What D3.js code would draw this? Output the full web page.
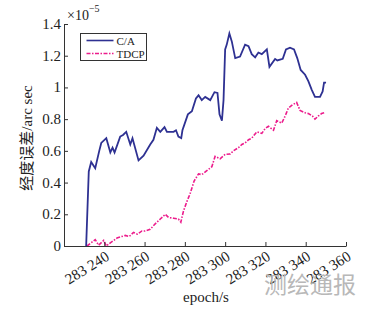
<!DOCTYPE html>
<html>
<head>
<meta charset="utf-8">
<script src="https://cdn.jsdelivr.net/npm/d3@7"></script>
<style>
  body { margin: 0; background: #fff; }
  svg text { font-family: "Liberation Serif", "Noto Sans CJK SC", serif; }
</style>
</head>
<body>
<div id="chart"></div>
<script>
// epochs (s) and longitude error (x1e-5 arc sec)
const caEpoch = [283231, 283232.3, 283233.5, 283235.5, 283237.5, 283238.5, 283241, 283243, 283244.1, 283245.1,
  283247.9, 283249.3, 283250.9, 283252.9, 283254, 283257, 283259.5, 283262.8, 283264.4, 283266.1,
  283267.8, 283269.9, 283271.1, 283274.4, 283275.6, 283276.8, 283278.2, 283278.8, 283281.5, 283283.5,
  283285.5, 283286.8, 283288.4, 283290.1, 283292.6, 283294.7, 283296.2, 283297.2, 283298.4, 283299.2,
  283300, 283300.8, 283302.1, 283303.3, 283305, 283307.4, 283309.9, 283311.6, 283313.2, 283314.9,
  283316.5, 283318.2, 283320.7, 283322, 283324.8, 283325.9, 283328.6, 283330.2, 283332.2, 283334.2,
  283335.8, 283337.5, 283339.7, 283341.3, 283343, 283344.6, 283347.1, 283348.4, 283349.1, 283350.1];
const caValue = [0, 0.47, 0.53, 0.49, 0.60, 0.65, 0.68, 0.59, 0.62, 0.59,
  0.69, 0.70, 0.72, 0.64, 0.68, 0.54, 0.57, 0.64, 0.67, 0.745,
  0.72, 0.75, 0.72, 0.72, 0.73, 0.69, 0.68, 0.73, 0.83, 0.85,
  0.93, 0.95, 0.92, 0.94, 0.92, 0.97, 0.965, 0.83, 0.79, 0.92,
  1.24, 1.27, 1.34, 1.29, 1.185, 1.195, 1.27, 1.26, 1.21, 1.19,
  1.22, 1.21, 1.24, 1.13, 1.18, 1.17, 1.18, 1.24, 1.25, 1.24,
  1.185, 1.11, 1.08, 1.04, 0.985, 0.94, 0.94, 0.975, 1.03, 1.03];

const tdcpEpoch = [283231.4, 283233.9, 283235.5, 283237.2, 283239.7, 283241, 283243, 283246.3, 283250.4, 283252.4,
  283254.5, 283256.4, 283258.7, 283260.3, 283262.8, 283265.3, 283267.8, 283270.3, 283271.9, 283274.4,
  283276.8, 283278, 283279.3, 283281, 283282.6, 283284.6, 283286.8, 283288.4, 283290.9, 283293.4,
  283295, 283297.5, 283300, 283302.5, 283304.1, 283306.6, 283308.3, 283309.9, 283311.6, 283313.2,
  283315.7, 283318.2, 283319.8, 283321.5, 283324, 283325.6, 283328.1, 283329.8, 283331.4, 283333.4,
  283335.5, 283337.2, 283339.7, 283341.3, 283343.3, 283344.6, 283346.3, 283347.9, 283349.2];
const tdcpValue = [0, 0.025, 0.04, 0.005, 0.035, 0, 0.02, 0.05, 0.067, 0.06,
  0.085, 0.075, 0.095, 0.095, 0.105, 0.14, 0.17, 0.2, 0.18, 0.175,
  0.17, 0.15, 0.22, 0.28, 0.33, 0.41, 0.455, 0.45, 0.475, 0.50,
  0.565, 0.55, 0.578, 0.58, 0.60, 0.62, 0.64, 0.65, 0.67, 0.68,
  0.72, 0.71, 0.74, 0.755, 0.73, 0.79, 0.775, 0.82, 0.87, 0.89,
  0.905, 0.855, 0.84, 0.835, 0.82, 0.80, 0.82, 0.835, 0.84];

const xTicks = [283240, 283260, 283280, 283300, 283320, 283340, 283360];
const yTicks = [0, 0.2, 0.4, 0.6, 0.8, 1, 1.2, 1.4];
const legendNames = ["C/A", "TDCP"];

const width = 369, height = 309;
const margin = { top: 24, right: 23, bottom: 63, left: 64 };

let svg = d3.select('#chart')
    .append('svg')
    .attr('width', width)
    .attr('height', height);

let xScale = d3.scaleLinear()
    .domain([283220, 283360])
    .range([margin.left, width - margin.right]);

let yScale = d3.scaleLinear()
    .domain([0, 1.4])
    .range([height - margin.bottom, margin.top]);

// data lines
let caData = caEpoch.map((e, i) => ({ epoch: e, value: caValue[i] }));
let tdcpData = tdcpEpoch.map((e, i) => ({ epoch: e, value: tdcpValue[i] }));

let line = d3.line()
    .x(d => xScale(d.epoch))
    .y(d => yScale(d.value));

svg.append('path')
    .datum(tdcpData)
    .attr('fill', 'none')
    .attr('stroke', '#ec1c8c')
    .attr('stroke-width', 1.6)
    .attr('stroke-dasharray', '4,1.5,1.5,1.5')
    .attr('d', line);

svg.append('path')
    .datum(caData)
    .attr('fill', 'none')
    .attr('stroke', '#2e3192')
    .attr('stroke-width', 1.8)
    .attr('d', line);

// axes, ticks pointing inward
let xAxis = svg.append('g')
    .attr('transform', `translate(0, ${height - margin.bottom})`)
    .call(d3.axisBottom(xScale).tickValues(xTicks).tickSizeInner(-4).tickSizeOuter(0).tickFormat(''));
let yAxis = svg.append('g')
    .attr('transform', `translate(${margin.left}, 0)`)
    .call(d3.axisLeft(yScale).tickValues(yTicks).tickSizeInner(-4).tickSizeOuter(0).tickFormat(''));
svg.selectAll('.domain, .tick line').attr('stroke', '#333').attr('stroke-width', 1);

// y tick labels
svg.selectAll('.ylab')
    .data(yTicks)
    .enter()
    .append('text')
    .attr('x', margin.left - 3)
    .attr('y', d => yScale(d) + 5)
    .attr('text-anchor', 'end')
    .attr('font-size', 15)
    .attr('fill', '#222')
    .text(d => d);

// x tick labels, rotated
svg.selectAll('.xlab')
    .data(xTicks)
    .enter()
    .append('text')
    .attr('transform', d => `translate(${xScale(d) + 6}, ${height - margin.bottom + 13}) rotate(-32)`)
    .attr('text-anchor', 'end')
    .attr('font-size', 15)
    .attr('fill', '#222')
    .text(d => String(d).slice(0, 3) + ' ' + String(d).slice(3));

// exponent
let expo = svg.append('text')
    .attr('x', margin.left + 3)
    .attr('y', 20)
    .attr('font-size', 14)
    .attr('fill', '#222');
expo.append('tspan').text('×10');
expo.append('tspan').attr('dy', -8).attr('font-size', 10).text('−5');

// axis titles
svg.append('text')
    .attr('x', 206)
    .attr('y', 302)
    .attr('text-anchor', 'middle')
    .attr('font-size', 15)
    .attr('fill', '#222')
    .text('epoch/s');

svg.append('text')
    .attr('transform', `translate(32, 138) rotate(-90)`)
    .attr('text-anchor', 'middle')
    .attr('font-size', 15)
    .attr('fill', '#222')
    .text('经度误差/arc sec');

// legend
let legend = svg.append('g').attr('transform', 'translate(80.5, 33.5)');
legend.append('rect')
    .attr('width', 66)
    .attr('height', 27)
    .attr('fill', '#fff')
    .attr('stroke', '#333')
    .attr('stroke-width', 1);
legend.selectAll('.lg')
    .data(legendNames)
    .enter()
    .append('line')
    .attr('x1', 6).attr('x2', 33)
    .attr('y1', (d, i) => 7 + i * 13).attr('y2', (d, i) => 7 + i * 13)
    .attr('stroke', (d, i) => i === 0 ? '#2e3192' : '#ec1c8c')
    .attr('stroke-width', 1.6)
    .attr('stroke-dasharray', (d, i) => i === 0 ? null : '4,1.5,1.5,1.5');
legend.selectAll('.lt')
    .data(legendNames)
    .enter()
    .append('text')
    .attr('x', 36)
    .attr('y', (d, i) => 11 + i * 13)
    .attr('font-size', 11)
    .attr('fill', '#222')
    .text(d => d);

// journal watermark
svg.append('text')
    .attr('x', 264)
    .attr('y', 293)
    .style('font-family', '"Noto Sans CJK SC", sans-serif')
    .attr('font-size', 23)
    .attr('fill', '#b8b8b8')
    .text('测绘通报');
</script>
</body>
</html>
